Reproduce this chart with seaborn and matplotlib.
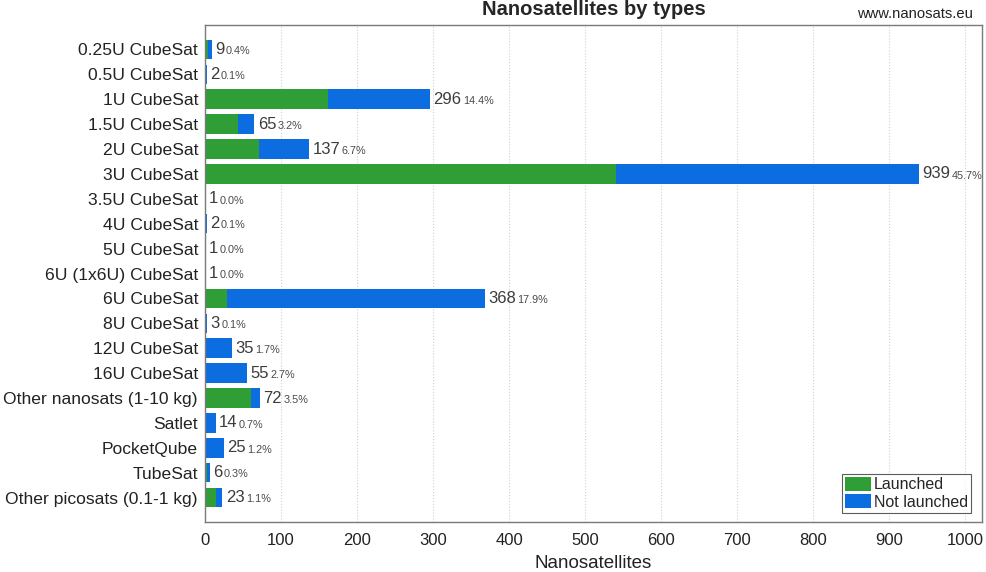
import matplotlib
matplotlib.use("Agg")
import matplotlib.pyplot as plt
import seaborn as sns
import pandas as pd
from matplotlib.patches import Patch

categories = ["0.25U CubeSat", "0.5U CubeSat", "1U CubeSat", "1.5U CubeSat", "2U CubeSat",
              "3U CubeSat", "3.5U CubeSat", "4U CubeSat", "5U CubeSat", "6U (1x6U) CubeSat",
              "6U CubeSat", "8U CubeSat", "12U CubeSat", "16U CubeSat",
              "Other nanosats (1-10 kg)", "Satlet", "PocketQube", "TubeSat",
              "Other picosats (0.1-1 kg)"]
totals = [9, 2, 296, 65, 137, 939, 1, 2, 1, 1, 368, 3, 35, 55, 72, 14, 25, 6, 23]
launched = [4, 1, 162, 43, 71, 541, 0, 0, 0, 0, 29, 0, 0, 0, 61, 0, 1, 3, 15]
x_ticks = [0, 100, 200, 300, 400, 500, 600, 700, 800, 900, 1000]

GREEN = "#2f9e37"
BLUE = "#0b6ddf"

sns.set_theme(style="white")
plt.rcParams["font.family"] = ["Liberation Sans", "DejaVu Sans"]

df = pd.DataFrame({"type": categories, "total": totals, "launched": launched})
grand = sum(totals)

fig = plt.figure(figsize=(9.86, 5.72), dpi=100)
ax = fig.add_axes([0.2079, 0.0874, 0.788, 0.8689])

sns.barplot(data=df, y="type", x="total", color=BLUE, orient="h", width=0.78,
            saturation=1, ax=ax, order=categories, linewidth=0, edgecolor="none")
sns.barplot(data=df, y="type", x="launched", color=GREEN, orient="h", width=0.78,
            saturation=1, ax=ax, order=categories, linewidth=0, edgecolor="none")

for i, tot in enumerate(totals):
    t = ax.annotate(str(tot), xy=(tot, i), xytext=(2.5, 0), textcoords="offset points",
                    va="center", ha="left", fontsize=12, color="#3c3c3c")
    ax.annotate(f"{tot / grand * 100:.1f}%", xy=(1, 0.05), xycoords=t,
                xytext=(1, 0), textcoords="offset points",
                va="bottom", ha="left", fontsize=7.8, color="#4a4a4a")

ax.set_xlim(0, 1021.7)
ax.set_ylim(18.98, -0.98)
ax.set_xticks(x_ticks)
ax.set_xticklabels([str(v) for v in x_ticks], fontsize=12, color="#222222")
ax.tick_params(axis="y", labelsize=12.6, colors="#222222", length=0, pad=5)
ax.tick_params(axis="x", length=0, pad=8)
ax.set_xlabel("Nanosatellites", fontsize=13.5, color="#222222", labelpad=5)
ax.set_ylabel("")
ax.xaxis.grid(True, linestyle=":", color="#cfcfcf", linewidth=0.8)
ax.set_axisbelow(True)
for s in ax.spines.values():
    s.set_visible(True)
    s.set_color("#7a7a7a")
    s.set_linewidth(1.0)

ax.set_title("Nanosatellites by types", fontsize=14.5, fontweight="bold", pad=7)
fig.text(0.987, 0.963, "www.nanosats.eu", ha="right", va="bottom", fontsize=10.6, color="#222222")

handles = [Patch(facecolor=GREEN, edgecolor="none", label="Launched"),
           Patch(facecolor=BLUE, edgecolor="none", label="Not launched")]
leg = ax.legend(handles=handles, loc="lower right", fontsize=11.5, frameon=True,
                fancybox=False, edgecolor="#333333", handlelength=1.63, handleheight=0.9,
                handletextpad=0.15, borderpad=0.2, labelspacing=0.12, borderaxespad=0,
                bbox_to_anchor=(0.9858, 0.0187))
leg.get_frame().set_linewidth(0.8)

fig.savefig("out.png", dpi=100)
